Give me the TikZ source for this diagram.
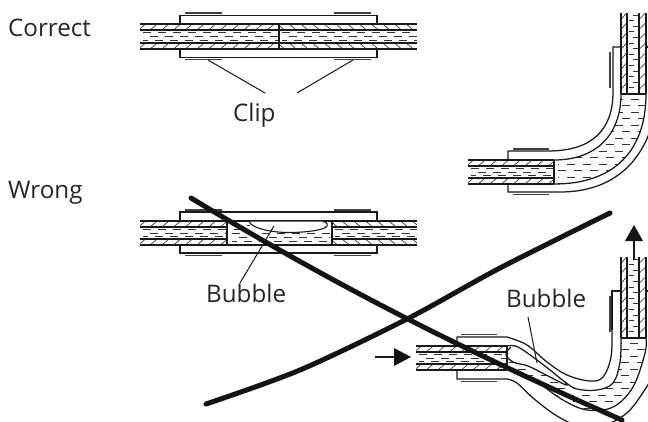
\documentclass[tikz,border=0pt]{standalone}
\usepackage{fontspec}
\setmainfont{Open Sans}
\tikzset{
  wall/.style={line width=1.25pt,black!90},
  clipbar/.style={line width=1.5pt,black!75},
  hatchline/.style={line width=.6pt,black!85},
  liq/.style={line width=.95pt,black!80},
  leader/.style={line width=1pt,black!90},
  cross/.style={line width=5pt,black!92,line cap=round},
  lab/.style={inner sep=0pt,anchor=base west,font=\fontsize{24.2}{25}\selectfont,text=black!85},
  flow/.style={line width=1.1pt,black!90},
  tip/.style={fill=black!92,draw=none}
}
\newcommand{\hpipe}[5]{%
  \draw[wall] (#1,#3)--(#2,#3) (#1,#3+6)--(#2,#3+6) (#1,#3+#5-6)--(#2,#3+#5-6) (#1,#3+#5)--(#2,#3+#5);
  \begin{scope}
    \clip (#1,#3) rectangle (#2,#3+#5);
    \pgfmathsetmacro{\xa}{#1+2}\pgfmathsetmacro{\xb}{#1+13.7}
    \foreach \hx in {\xa,\xb,...,#2}{
      \draw[hatchline] (\hx+#4*3,#3+.5)--(\hx-#4*3,#3+5.5);
      \draw[hatchline] (\hx+#4*3,#3+#5-5.5)--(\hx-#4*3,#3+#5-.5);
    }
    \draw[liq,dash pattern=on 8pt off 7pt] (#1+3,#3+8.5)--(#2,#3+8.5);
    \draw[liq,dash pattern=on 8pt off 7pt,dash phase=8pt] (#1+3,#3+12.5)--(#2,#3+12.5);
    \draw[liq,dash pattern=on 8pt off 7pt,dash phase=3pt] (#1+3,#3+#5-8.5)--(#2,#3+#5-8.5);
  \end{scope}
}
\newcommand{\vpipe}[2]{%
  \draw[wall] (621,#1)--(621,#2) (627,#1)--(627,#2) (639,#1)--(639,#2) (646,#1)--(646,#2);
  \begin{scope}
    \clip (621,#1) rectangle (646,#2);
    \pgfmathsetmacro{\ya}{#1+3}\pgfmathsetmacro{\yb}{#1+13}
    \foreach \hy in {\ya,\yb,...,#2}{
      \draw[hatchline] (621.5,\hy+3)--(626.5,\hy-3);
      \draw[hatchline] (639.5,\hy+3)--(645.5,\hy-3);
    }
    \pgfmathsetmacro{\ya}{#1+2}\pgfmathsetmacro{\yb}{#1+7.6}
    \foreach \hy [count=\hi] in {\ya,\yb,...,#2}{
      \pgfmathsetmacro{\hs}{mod(\hi,2)*4}
      \draw[liq] (629+\hs,\hy)--(634+\hs,\hy);
    }
  \end{scope}
}
\begin{document}
\begin{tikzpicture}[x=1pt,y=-1pt]
\clip (0,0) rectangle (648,421);
\fill[white] (0,0) rectangle (648,421);
% ---------- labels
\node[lab] (correct) at (8,36) {Correct};
\node[lab] (wrong) at (8,198) {Wrong};
\node[lab] (clip) at (233,121) {Clip};
\node[lab] (bubbleA) at (206,302) {Bubble};
\node[lab] (bubbleB) at (506,307) {Bubble};
% ---------- correct straight joint
\hpipe{140}{279}{24}{1}{25}
\hpipe{279}{417}{24}{-1}{25}
\draw[wall] (279,24)--(279,49);
\draw[wall] (180,24)--(180,15.3)--(377,15.3)--(377,24);
\draw[wall] (180,49)--(180,57.3)--(377,57.3)--(377,49);
\draw[clipbar] (185,13)--(222,13) (334,13)--(371,13) (185,59.5)--(222,59.5) (334,59.5)--(371,59.5);
\coordinate (clipL) at (208,60);
\coordinate (clipR) at (353,60);
\draw[leader] (clipL)--(265,93);
\draw[leader] (clipR)--(297,93);
% ---------- wrong straight joint
\hpipe{140}{227}{221}{1}{24}
\hpipe{332}{417}{221}{-1}{24}
\draw[wall] (227,221)--(332,221) (227,245)--(332,245) (227,221)--(227,245) (332,221)--(332,245);
\draw[wall] (180,221)--(180,212)--(377,212)--(377,221);
\draw[wall] (180,245)--(180,253)--(377,253)--(377,245);
\draw[clipbar] (185,210)--(222,210) (334,210)--(371,210) (185,255.5)--(222,255.5) (334,255.5)--(371,255.5);
\begin{scope}
  \clip (228,222) rectangle (331,244);
  \draw[liq,dash pattern=on 8pt off 7pt] (232,225)--(250,225);
  \draw[liq,dash pattern=on 8pt off 7pt] (234,229)--(248,229);
  \draw[liq,dash pattern=on 8pt off 7pt] (232,233.5)--(330,233.5);
  \draw[liq,dash pattern=on 8pt off 7pt,dash phase=8pt] (232,237.5)--(330,237.5);
  \draw[liq,dash pattern=on 8pt off 7pt,dash phase=3pt] (232,241.5)--(330,241.5);
\end{scope}
\fill[white,draw=black!90,line width=1.1pt] (249,221.5) .. controls (252,229) and (275,233) .. (292,232.5) .. controls (312,232) and (330,229) .. (327,224) .. controls (326,222.5) and (325,221.5) .. (323,221.5);
\coordinate (bubA) at (274,226);
\draw[leader] (bubA)--(240,283);
% ---------- correct elbow
\begin{scope}
  \clip (554,160) .. controls (596,160) and (621,135) .. (621,94) -- (646,94) .. controls (646,150) and (615,184) .. (554,184) -- cycle;
  \foreach \ly [count=\li] in {99,105.5,...,184}{
    \pgfmathsetmacro{\lp}{mod(\li,2)*7}
    \draw[liq,dash pattern=on 8pt off 8pt,dash phase=\lp pt] (558,\ly)--(646,\ly);
  }
\end{scope}
\hpipe{468}{554}{160}{1}{24}
\vpipe{13}{94}
\draw[wall] (554,160)--(554,184) (621,94)--(646,94);
\draw[wall] (554,160) .. controls (596,160) and (621,135) .. (621,94);
\draw[wall] (554,184) .. controls (615,184) and (646,150) .. (646,94);
\draw[wall] (508,160)--(508,151)--(548,151) .. controls (592,151) and (613,130) .. (613,92)--(613,47)--(621,47);
\draw[wall] (646,47)--(649,47);
\draw[wall] (508,184)--(508,192)--(560,192) .. controls (610,192) and (640,165) .. (652,125);
\draw[clipbar] (513,149)--(549,149) (513,194.5)--(549,194.5) (610,52)--(610,88);
% ---------- wrong elbow
\begin{scope}
  \clip (507,352) -- (506,354) -- (513,362) -- (528,366) -- (548,376) -- (566,385) -- (577,390) -- (597,390) -- (613,383) -- (621,360) -- (621,338) -- (646,338) -- (646,353) -- (633,387) -- (613,407) -- (587,410) -- (563,400) -- (540,383) -- (520,372) -- (507,370) -- cycle;
  \foreach \ly [count=\li] in {343,349.5,...,415}{
    \pgfmathsetmacro{\lp}{mod(\li,2)*7}
    \draw[liq,dash pattern=on 8pt off 8pt,dash phase=\lp pt] (509,\ly)--(646,\ly);
  }
\end{scope}
\hpipe{416}{507}{346}{1}{24}
\vpipe{257}{338}
\draw[wall] (507,346)--(507,370) (621,338)--(646,338);
\draw[wall] plot[smooth,tension=.6] coordinates {(507,346)(517,346.5)(533,357)(550,370)(565,382)(577,389)(597,390)(613,383)(620,362)(621,338)};
\draw[wall] plot[smooth,tension=.6] coordinates {(511,347)(506,354)(513,362)(528,366)(548,376)(566,385)(565,382)};
\draw[wall] plot[smooth,tension=.6] coordinates {(507,370)(520,372)(540,384)(563,400)(587,410)(613,407)(633,387)(645,353)(646,338)};
\draw[wall] (457,346)--(457,337)--(507,337) plot[smooth,tension=.6] coordinates {(507,337)(527,345)(547,362)(567,375)(590,381)(603,377)(611,357)(612,330)};
\draw[wall] (612,330)--(612,291)--(621,291);
\draw[wall] (646,291)--(649,291);
\draw[wall] (457,370)--(457,379)--(507,379) plot[smooth,tension=.6] coordinates {(507,379)(517,383)(533,398)(557,416)(580,426)(605,425)(630,410)(652,378)};
\draw[clipbar] (461,334.5)--(497,334.5) (461,381.5)--(497,381.5) (610,296)--(610,332);
\coordinate (bubB) at (528,317);
\draw[leader] (bubB)--(537,363);
% ---------- arrows
\coordinate (flowA) at (375,357);
\coordinate (flowB) at (395,357);
\draw[flow] (flowA)--(flowB);
\fill[tip] (394,348)--(411,357)--(394,366)--cycle;
\coordinate (flowC) at (634,260);
\coordinate (flowD) at (634,240);
\draw[flow] (flowC)--(flowD);
\fill[tip] (625,241)--(634,225)--(643,241)--cycle;
% ---------- cross-out strokes
\draw[cross] (191,198) .. controls (330,282) and (450,344) .. (622,420);
\draw[cross] plot[smooth,tension=.5] coordinates {(206,404)(300,370)(407,319)(500,268)(610,213)};
\end{tikzpicture}
\end{document}
